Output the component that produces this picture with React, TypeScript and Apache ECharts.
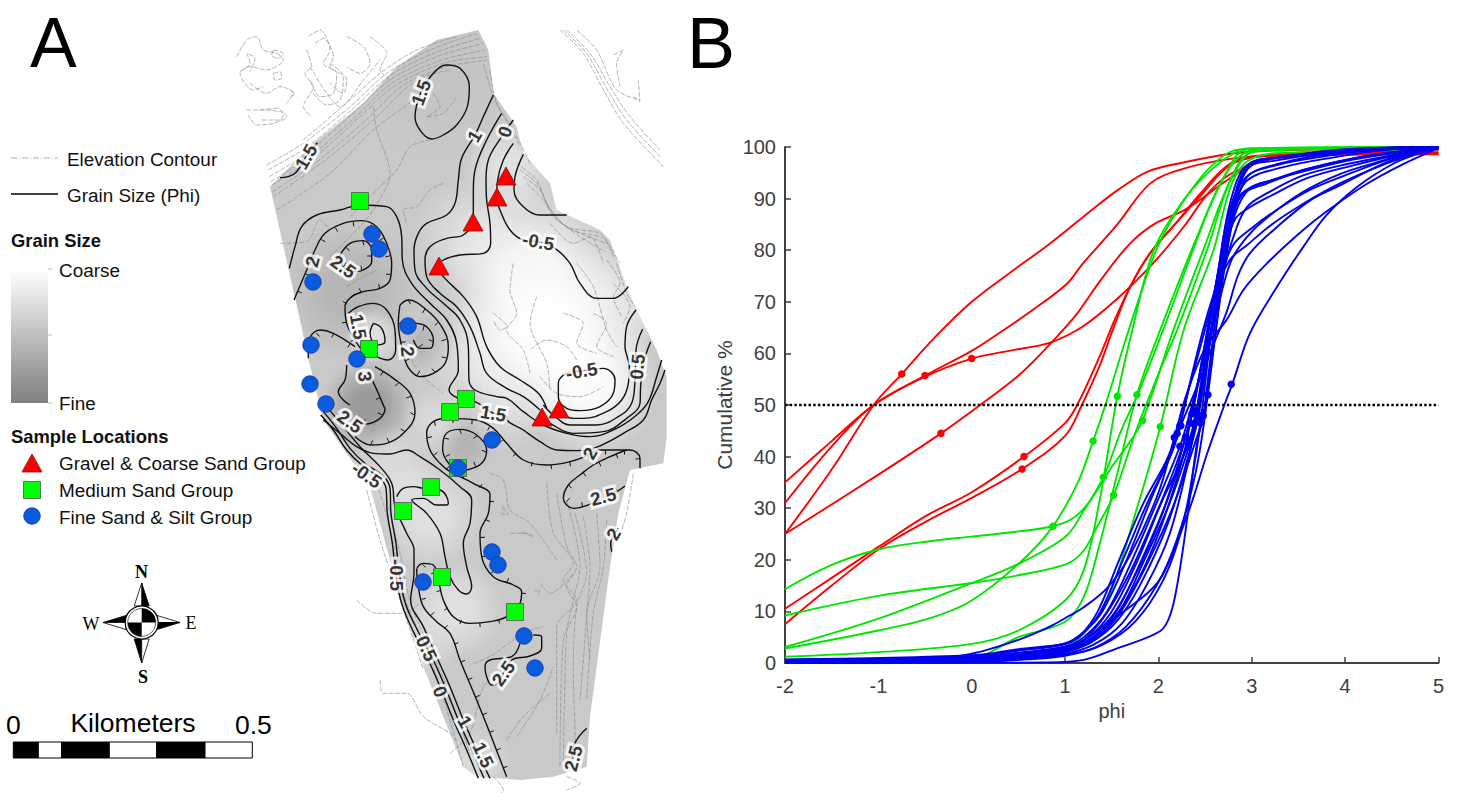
import React, { useEffect, useRef } from "react";
import * as echarts from "echarts";

type P = [number, number];
const pairs = (ox: number, oy: number, v: number[]): P[] => {
  const out: P[] = [];
  for (let i = 0; i < v.length; i += 2) out.push([ox + v[i] / 3, oy + v[i + 1] / 3]);
  return out;
};
const u = (...v: number[]) => pairs(230, 30, v);
const l = (...v: number[]) => pairs(290, 400, v);
const pts = (...v: number[]): P[] => {
  const out: P[] = [];
  for (let i = 0; i < v.length; i += 2) out.push([v[i], v[i + 1]]);
  return out;
};

// ---------- Panel B: cumulative curves (phi, %) ----------
const redCurves: P[][] = [
  pts(-2,25,-1.5,37.5,-1.05,50,-0.75,56,-0.4,63,0,70,0.4,75.5,0.84,81.3,1.3,88,1.56,91.6,1.88,95.2,2.27,97,2.77,98.7,3.34,99.4,5,99.7),
  pts(-2,35,-1.5,43,-1.05,50,-0.5,55.7,0,60.5,0.3,64,0.66,68.5,1.02,73.5,1.19,77.4,1.56,85,1.91,92.9,2.27,95.8,2.77,97.7,3.34,98.4,5,98.6),
  pts(-2,31,-1.5,42,-1.05,50,-0.5,55.5,0,59,0.4,60.5,0.84,62.1,1.19,65.2,1.56,70.6,1.91,76.8,2.27,84.5,2.56,91.6,2.85,95.5,3.34,98,4.41,98.7,5,98.8),
  pts(-2,25,-1,36.5,-0.33,44.5,0.09,50,0.52,56,0.88,62.6,1.12,67.5,1.37,73.9,1.68,81,1.95,85,2.3,88,2.77,94,3.1,97.5,3.6,99,5,99.4),
  pts(-2,10.5,-1.5,16.5,-1,22.5,-0.48,28.6,0,33.1,0.56,40,1,46.5,1.13,50,1.37,59.4,1.52,66,1.7,73,1.91,79.4,2.2,85.5,2.45,91,2.77,96.8,3.12,98.4,5,99),
  pts(-2,7.5,-1.5,15,-1,22,-0.48,27.5,0,32,0.54,37.6,1,44,1.18,50,1.37,57.6,1.52,65,1.7,73,1.91,79.4,2.2,85.5,2.45,90.5,2.77,96.5,3.12,98.2,5,99.4),
];
const greenCurves: P[][] = [
  pts(-2,14.3,-1.5,19,-1,22,-0.41,23.7,0,24.5,0.5,25.5,0.87,26.5,1.08,28,1.25,31,1.5,38,1.7,43,1.83,47,2.16,64.5,2.48,80,2.77,93.5,3,99,3.3,99.6,5,99.8),
  pts(-2,9.2,-1,13,0,15.5,0.5,17,1.02,19.2,1.2,21.8,1.34,26.3,1.52,32.5,1.75,44.5,2,56,2.2,64.5,2.52,80,2.78,94,3,99,3.5,99.5,5,99.7),
  pts(-2,3.1,-1,8.6,0,15.5,0.5,19.2,1,24.4,1.2,29.5,1.41,36,1.6,45,1.8,53,2.05,64.5,2.37,80,2.66,92.9,2.91,98.7,3.2,99.6,5,99.9),
  pts(-2,2.8,-1,6.3,-0.41,8.9,0,12.1,0.5,19.2,0.85,26,1.13,34.7,1.3,43,1.45,51,1.62,61,1.8,71,2,81,2.25,89,2.55,96,2.85,99.5,3.2,99.8,5,100),
  pts(-2,1.2,-1,2.1,0,3.7,0.5,6.3,1,12.1,1.2,18,1.37,31.5,1.56,51.7,1.72,64.5,1.95,80,2.27,89.7,2.52,94.8,2.77,98.4,2.95,99.7,5,100),
  pts(-2,0.3,0,1,0.5,5,1,8,1.2,12.8,1.37,23,1.55,36,1.77,52,2.05,66,2.4,82,2.7,94,2.95,99.5,5,100),
  pts(-2,0.1,0,0.2,0.5,1,1,3,1.2,5.7,1.45,12,1.77,30,2.02,45.8,2.27,64.5,2.59,80,2.8,93.5,3.03,98,3.5,99,5,99.5),
];
const blueCurves: P[][] = [
  pts(-2,0,0.8,0.1,1.2,0.6,1.55,2.8,2.02,6.2,2.13,9.5,2.215,16.6,2.3,26.9,2.41,42.3,2.48,47.9,2.55,58,2.65,72,2.78,86,2.9,94,3.05,97,3.5,98.5,4.2,99.5,5,100),
  pts(-2,0.2,0,0.8,1,2.8,1.2,3.7,1.55,8.9,1.91,14,2.07,17.9,2.34,30.2,2.52,40.5,2.7,49.7,2.79,54,2.98,63.9,3.27,72.9,3.55,80.6,3.8,86.8,4.13,92.3,4.52,96.8,4.8,98.8,5,100),
  pts(-2,0.2,-0.5,0.6,0,1.8,0.5,4.5,0.83,7,1.05,9.2,1.2,10.8,1.46,14.7,1.7,21,2,33,2.17,43.7,2.3,52,2.5,61,2.73,66.5,2.91,72.3,3.16,77.4,3.55,83.9,3.8,87.5,4.2,92.5,4.6,96.5,5,99.8),
  pts(-2,0.6,0,1.3,0.5,2.5,1,3.8,1.2,6,1.4,10,1.66,20,1.95,33,2.15,41,2.24,46,2.4,53,2.55,60,2.73,68,2.85,75,2.98,79.4,3.27,84.5,3.63,89.7,3.95,92.6,4.41,96.8,4.77,99,5,99.8),
  pts(-2,0.4,0,1,0.5,2,1,3.2,1.2,5,1.45,10,1.72,20,1.98,31,2.23,42,2.33,48,2.5,60,2.65,70,2.78,78,2.95,82.6,3.13,85.8,3.52,91,3.95,94.8,4.41,97.4,4.77,99.4,5,100),
  pts(-2,0.3,0,0.8,0.5,1.7,1,3,1.25,5,1.5,10,1.78,20,2.03,31,2.32,42.3,2.42,50,2.55,62,2.7,76,2.83,84,2.95,88.4,3.16,91,3.55,94.5,4.05,96.8,4.52,98.4,5,99.7),
  pts(-2,0.2,0,0.6,0.5,1.4,1,2.6,1.3,5,1.55,10,1.82,20,2.08,31,2.29,43.7,2.4,52,2.55,66,2.68,78,2.8,87,2.91,91,3.16,92.9,3.55,95.5,4.05,97.7,4.52,99,5,100),
  pts(-2,0.1,0,0.4,0.5,1,1,2.1,1.35,5,1.6,10,1.9,20,2.15,30,2.38,42,2.48,48,2.58,60,2.7,76,2.82,88,2.95,93.5,3.34,96.1,3.88,98,4.41,99.4,5,100),
  pts(-2,0.1,0,0.5,0.5,1.2,1,2.4,1.3,5,1.58,10,1.85,20,2.12,31,2.33,42,2.41,47,2.53,60,2.66,74,2.78,85,2.95,94.2,3.27,96.5,3.7,98,4.41,99.7,5,100),
  pts(-2,0.2,0,0.5,0.5,1.1,1,2.2,1.28,4,1.55,8,1.8,15,2.1,27,2.35,42,2.43,48,2.55,62,2.66,76,2.78,88,2.98,96.8,3.34,98,3.88,99.4,4.77,100),
  pts(-2,0.3,0,0.7,0.5,1.5,1,2.8,1.22,4.5,1.5,9,1.75,17,2,27,2.28,41,2.38,46.3,2.5,58,2.63,72,2.76,86,2.95,95.8,3.27,97.4,3.9,99,5,100),
  pts(-2,0.4,0,0.9,0.5,1.8,1,3,1.2,4.5,1.42,9,1.68,17,1.93,27,2.2,39,2.36,48.3,2.48,60,2.6,72,2.72,83,2.85,90,2.97,92,3.2,93.5,3.6,95.8,4.1,97.8,4.6,99.2,5,99.9),
  pts(-2,0.1,0,0.3,0.5,0.8,1,1.8,1.3,3.5,1.6,7.5,1.87,15,2.12,25,2.33,40,2.41,49,2.52,62,2.64,76,2.75,87,2.93,94,3.3,96.8,3.9,98.8,5,100),
  pts(-2,0.1,0,0.3,0.5,0.7,1,1.6,1.32,3,1.65,7,1.98,15,2.2,24,2.4,37,2.53,52,2.62,65,2.72,78,2.82,87,2.98,92,3.2,93.5,3.6,95.5,4.1,97.6,4.6,99,5,99.9),
  pts(-2,0.2,0,0.6,0.5,1.3,1,2.5,1.24,4,1.52,8.5,1.78,16,2.02,26,2.25,39,2.34,46.5,2.46,58,2.58,70,2.7,80,2.82,86,2.95,88,3.2,90.5,3.6,94,4.1,96.5,4.6,98.6,5,99.8),
  pts(-2,0.5,0,1.2,0.5,2.4,1,3.6,1.18,5.5,1.38,10,1.62,20,1.88,31,2.12,40,2.23,46,2.36,56,2.5,66,2.64,74,2.8,81,2.98,84,3.2,87,3.6,91.5,4,94.5,4.45,97.5,4.85,99.5),
  pts(-2,0.7,0,1.5,0.5,2.7,1,3.8,1.17,5.5,1.35,10,1.58,20,1.84,31,2.08,39,2.2,44.5,2.34,54,2.46,62,2.6,71,2.76,78,2.95,81,3.2,84.8,3.55,89,3.95,93,4.4,96.5,4.8,99),
  pts(-2,0.1,0,0.2,0.5,0.6,1,1.4,1.4,3.5,1.75,8,2.05,16,2.25,26,2.38,38,2.45,46.5,2.55,62,2.66,78,2.78,90,2.95,96.5,3.3,98,4,99.5,5,100),
];
const redMarkers = pts(-0.75,56,-0.5,55.7,0,59,-0.33,44.5,0.56,40,0.54,37.6);
const greenMarkers = pts(0.87,26.5,1.3,43,1.41,36,1.52,32.5,1.56,51.7,1.77,52,1.83,47,2.02,45.8);
const blueMarkers = pts(2.78,54,2.53,52,2.17,43.7,2.24,46,2.23,42,2.32,42.3,2.29,43.7,2.48,47.9,2.41,47,2.43,48,2.38,46.3,2.36,48.3,2.41,49,2.34,46.5,2.23,46,2.2,44.5,2.45,46.5);
const medianLine = pts(-2,50,5,50);
const phiTicks = ["-2", "-1", "0", "1", "2", "3", "4", "5"];

// ---------- Panel A: map (page pixels) ----------
const outline: P[] = [
  ...u(120,470,250,340,400,220,500,110,620,30,745,0,775,60,780,100,790,190,860,290,880,370,960,460,980,540,1110,600,1140,630,1190,770,1220,840,1280,960,1310,1040),
  ...l(1130,110,1120,190,1020,210,985,340,960,500,900,950,890,1100,790,1130,690,1140,560,1130,520,1100,400,800,330,600,300,480,240,260,100,60),
  [308,357],[300,320],
];
const shadeCentres: [number, number, number, string][] = [
  [440,70,90,"rgba(140,140,140,0.08)"],
  [350,290,72,"rgba(120,120,120,0.24)"],
  [368,405,46,"rgba(105,105,105,0.48)"],
  [465,445,30,"rgba(120,120,120,0.25)"],
  [428,345,30,"rgba(120,120,120,0.22)"],
  [510,170,48,"rgba(255,255,255,0.45)"],
  [470,235,58,"rgba(255,255,255,0.35)"],
  [530,275,90,"rgba(255,255,255,0.75)"],
  [550,335,100,"rgba(255,255,255,0.95)"],
  [590,385,70,"rgba(255,255,255,0.85)"],
  [620,300,60,"rgba(255,255,255,0.35)"],
  [480,360,60,"rgba(255,255,255,0.4)"],
  [505,415,40,"rgba(255,255,255,0.25)"],
  [372,335,28,"rgba(255,255,255,0.5)"],
  [430,515,55,"rgba(255,255,255,0.42)"],
  [455,610,50,"rgba(255,255,255,0.42)"],
  [395,470,45,"rgba(255,255,255,0.32)"],
  [435,420,35,"rgba(255,255,255,0.28)"],
  [410,650,45,"rgba(255,255,255,0.28)"],
  [475,765,40,"rgba(255,255,255,0.3)"],
];
const elevationLines: P[][] = [
  u(20,80,50,30,80,20,100,60,140,70,160,90,110,120,60,110,30,130,70,180,100,170),
  u(60,160,110,190,150,170,190,190,170,220),
  u(30,125,60,100,50,70,75,85,60,125),
  u(130,60,160,70,145,85,125,75,130,60),
  u(130,130,150,125,155,145,135,150,130,130),
  u(180,180,195,190,180,200),
  u(90,240,140,235,170,260,130,280,80,285,55,255),
  u(235,20,270,0,300,60,280,100,320,130,310,190,270,200,240,150),
  u(255,40,280,25,310,80,300,110,340,140,330,210,290,225,250,190),
  u(230,60,245,110,225,130,250,170,220,230,245,260),
  u(300,100,350,150,340,190,300,160),
  u(350,20,400,50,420,100,390,130,350,110),
  u(420,20,470,70,450,120,480,150),
  u(50,240,100,240,160,250,150,270,90,270),
  u(240,110,290,190,330,230,400,150,450,90),
  u(110,405,220,340,360,230,470,130,600,60,740,10),
  u(114,420,225,355,365,240,475,140,610,70,750,25),
  u(118,440,230,370,370,250,480,150,620,80,760,40),
  u(122,455,240,380,380,258,485,160,630,92,765,60),
  u(125,465,250,385,390,260,490,170,640,100,770,80),
  u(128,485,265,392,410,268,520,165,650,110,772,90),
  u(130,500,280,395,430,270,560,150,660,120),
  u(140,540,300,430,430,300,580,190),
  u(220,330,360,210,450,130,560,60,680,20),
  u(990,0,1060,70,1120,180,1180,280,1300,410),
  u(1000,0,1070,70,1130,175,1190,270,1295,385),
  u(1010,0,1080,70,1140,170,1200,260,1290,360),
  u(1040,0,1100,60,1160,180,1230,210),
  u(1150,75,1180,60,1160,100,1170,170),
  u(1210,200,1230,215,1225,150),
  u(150,640,230,635,270,570,300,600),
  u(350,770,400,740,440,720),
  u(430,230,440,300,480,430,430,540,380,600,300,680),
  u(600,330,540,350,500,420,440,480,360,560),
  u(640,460,600,480,560,530,520,540,530,580),
  u(610,190,630,230,590,260,640,250,680,200),
  u(850,700,840,780,860,850,830,900,880,960,900,1030),
  u(790,850,830,890,810,900,790,870),
  u(920,800,900,880,950,1000,960,1080),
  u(1040,700,1090,770,1130,900,1160,950),
  u(960,580,1030,640,1080,620,1120,700),
  u(1000,850,1060,880,1040,940,1100,970),
  u(1090,850,1130,880,1100,950,1150,980),
  u(1040,990,1010,950,950,930,900,960),
  u(860,400,920,450,950,520,1010,590,1110,610,1140,650,1170,700),
  u(870,420,925,465,960,540,1025,600,1120,625,1150,680),
  u(880,440,930,480,970,560,1040,605,1130,640),
  u(890,460,940,510,990,575,1050,620,1125,665),
  u(760,100,790,200,840,290,870,350),
  u(780,120,800,220,850,300,900,400),
  u(1150,760,1200,830,1180,880),
  u(1160,700,1190,790,1215,830),
  u(1130,690,1170,760,1150,800,1175,860),
  u(930,1040,980,1090,1050,1100,1120,1070),
  u(580,900,540,970,580,1040,640,1090),
  l(260,250,300,380,340,580,430,800,520,1100),
  l(230,270,270,420,330,600,400,810),
  l(290,300,330,460,365,620,450,810,540,1060),
  l(200,600,260,640,340,640,400,600),
  l(270,840,280,880,350,880,400,950,480,1000,500,1020),
  l(660,400,720,400,730,410,690,395),
  l(600,220,640,240,660,330,720,370,800,480),
  l(640,320,655,345,635,340,640,320),
  l(770,250,790,400,850,490,820,540,860,600,800,680,800,1000),
  l(800,280,830,440,860,500,830,560,860,620,820,720,810,1100),
  l(830,300,870,500,850,600,830,700,820,1100),
  l(855,340,890,520,860,620,850,800,860,1100),
  l(880,350,900,500,890,650,870,900),
  l(920,340,930,500,890,640,900,780),
  l(950,360,940,500,910,640,890,900),
  l(750,550,780,580,850,520),
  l(735,575,750,570,745,585),
  l(550,790,600,770,700,700,760,680),
  l(480,1060,540,1000,580,860,620,830),
  l(680,1010,750,900,790,800),
  l(650,1020,700,950,780,880),
  l(830,1130,870,1150,830,1170),
  l(610,1130,640,1170,620,1190),
  l(1030,220,1010,340,985,420),
];

const line1 = [...u(790,195,760,260,735,315,695,385,685,450,675,520,650,555,590,580,565,610,552,660,555,720,590,775,640,820,690,870,715,950,717,1050,735,1080,800,1100),...l(650,-5,700,35,760,75,830,100,900,110,980,85,1040,45,1075,5,1100,-70,1115,-120)];
const line2 = [...u(815,250,770,330,735,420,730,480,730,560,700,615,650,625,600,650,585,690,590,740,630,790,680,830,720,890,750,970,770,1030,830,1075,880,1100,930,1140)];
const line3 = [...u(850,270,815,320,775,390,768,450,770,510,780,580,782,640,760,670,690,675,640,690,625,710,640,740,700,800,740,860,770,950,810,1010,870,1050,925,1090,950,1135)];
const line4 = u(850,340,820,390,803,450,800,505,810,540,840,600,880,630,925,635,975,655,1020,700,1050,760,1100,805,1150,805,1195,770);
const line5 = u(880,373,855,440,852,480,880,530,930,555,1010,555);
const ellipse15 = u(573,187,610,130,650,105,690,115,718,170,712,230,680,285,640,315,605,327,570,300,555,260,560,225,573,187);
const nw15 = u(150,443,175,440,200,425,228,380,262,338);
const squareLine = [...u(178,715,195,650,215,590,260,555,330,540,390,525,470,530,500,560,515,620,517,690,545,760,600,820,650,870,680,940,685,1020,657,1080,685,1105,735,1115,790,1150,830,1160),...l(650,55,700,90,750,125,800,150,860,152,900,148,950,128,1000,100,1060,60,1085,0,1110,-50,1125,-90)];
const ring05 = u(1055,1023,1120,1015,1155,1050,1150,1090,1110,1130,1050,1142,1010,1135,985,1100,985,1060,1010,1030,1055,1023);
const right1 = [...u(1218,840,1190,890,1185,950,1198,1010,1195,1060,1175,1110,1130,1145,1060,1165),...l(850,55,810,40)];
const right2 = [...u(1238,897,1218,960,1215,1050),...l(1025,10,985,50,920,75,840,75,790,45,760,15)];
const right3 = [...u(1262,935,1240,1000,1232,1070),...l(1050,10,1010,55,940,95,850,100,780,70,750,50)];
const midLine = l(100,60,150,100,200,140,250,160,300,162,350,150,390,170,450,210,510,260,545,300,540,370,520,430,530,500,545,560,530,582,505,570,480,530,465,470,450,400,410,340,365,300,400,295,440,315,470,315,475,310,450,270,400,265,370,260,340,265,320,290);
const bubble15 = u(355,850,385,830,430,820,470,840,495,900,497,960,475,990,440,980,415,960);
const inner15 = u(430,880,455,895,465,935,440,945,420,910,430,880);
const sw1 = l(92,45,130,90,170,150,215,195,270,235,288,265,292,340,307,430,317,520,335,610,370,695,410,770,450,860,490,960,530,1050,565,1135);
const sw2 = l(100,35,140,85,180,145,225,190,280,228,300,265,303,340,318,430,328,520,346,610,382,690,425,770,465,860,505,960,545,1050,582,1135);
const sw3 = l(110,20,160,80,210,140,270,200,305,250,315,320,350,400,372,450,372,520,362,600,400,680,440,770,480,860,520,960,560,1050,600,1135);
const squiggle25 = [...l(690,730,665,770,600,780,585,800,590,830,605,855,625,850,640,820,665,780,720,768,755,745,755,710,730,705)];
const south25 = l(890,985,860,1020,845,1060,850,1075);
const east2 = l(985,385,975,400,962,430,965,455);

const plainContours: P[][] = [line1,line2,line3,line4,line5,ellipse15,nw15,squareLine,ring05,right1,right2,right3,midLine,bubble15,inner15,sw1,sw2,sw3,squiggle25,south25,east2];

// Contours of closed depressions: their hachures are placed by walking along them.
const bigTwo = l(1050,205,1050,175,1020,150,930,150,885,170,840,185,770,195,700,180,650,130,610,85,560,60,480,55,430,65,410,100,420,150,450,190,480,215,550,250,600,285,595,340,570,400,575,470,610,530,670,555,695,575,690,610,650,650,600,665,540,670,490,650,460,600,445,540,430,495,400,490,380,510,385,560,400,620,440,665,480,700,510,780,560,900,600,1000,650,1130);
const topTwo = u(192,810,230,720,255,660,285,610,340,580,395,572,440,590,470,640,485,700,480,750,450,775,400,785,365,800,345,830,350,880,375,930,395,960);
const midTwo = [...u(435,1010,490,1045,540,1090,555,1150),...l(375,40,340,100,290,130,245,135,195,110)];
const loop2 = u(510,825,535,810,590,840,635,890,655,950,645,1000,610,1030,570,1040,540,1020,525,990,515,950,505,880,510,825);
const loop2in = u(555,880,590,890,610,930,600,955,570,955,550,930);
const loop25 = u(330,675,360,640,400,632,425,660,425,695,400,720,375,725,340,710,330,675);
const leftLoop = u(235,985,240,925,270,900,310,910,375,950);
const loop3 = [...u(415,1025,445,1090,462,1130),...l(285,25,270,55,225,72,205,60)];
const loop3l = u(350,1005,345,1050,325,1085,340,1110,360,1125);
const centreLoop = l(480,195,458,150,465,105,510,88,560,105,590,150,575,190,530,210);
const se25 = l(1005,258,985,272,940,295,880,320,850,325,820,295,835,255,870,225,910,195,960,170,1010,150);
const hachuredContours: P[][] = [bigTwo,topTwo,midTwo,loop2,loop2in,loop25,leftLoop,loop3,centreLoop,se25];
const unhachuredExtras: P[][] = [loop3l];

const contourLabelTexts = ["1.5","1.5","1","0","-0.5","2","2.5","1.5","2","3","-0.5","0.5","1.5","2","2.5","2","-0.5","2.5","-0.5","0.5","0","1","1.5","2.5","2.5"];
const contourLabelPlaces: P[] = [...u(573,187,228,380,733,318,825,305,925,635,247,695,340,710,385,890,533,965,405,1040,1055,1023,1222,1010),...l(610,40,900,160,940,290,970,402,230,225,180,65,320,525,410,745,450,875,525,965,580,1065,640,820,850,1075)];
const contourLabelTurns = [70,60,60,70,-10,75,-35,-80,-85,-85,10,85,-10,60,15,60,-35,-35,-90,-65,-70,-60,-65,55,75];

const triangleSites = pts(506,176,497,197,473,222,439,266,542,417,559,409);
const squareSites = pts(360,201,369,349,466,399,450,412,458,468,431,487,403,511,442,577,515,612);
const circleSites = pts(372,234,379,249,313,282,408,326,311,345,357,359,310,384,326,404,492,440,458,468,492,552,498,565,423,582,524,636,535,668);
const legendTriangle = pts(32,463);
const legendSquare = pts(32,490);
const legendCircle = pts(32,516);
const elevationKey = pts(11,158,58,158);
const grainKey = pts(11,194,58,194);

const scaleStops = [13.3,38.3,61.7,109.3,156.7,205,252.3];

const SANS = "'Liberation Sans', Arial, sans-serif";
const SERIF = "'Liberation Serif', 'Times New Roman', serif";

function hachures(path: P[], step: number, len: number): (P | string[])[] {
  const out: (P | string[])[] = [];
  const side = path === bigTwo ? -1 : 1;
  let carry = step / 2;
  for (let i = 0; i < path.length - 1; i++) {
    const [x0, y0] = path[i];
    const [x1, y1] = path[i + 1];
    const d = Math.hypot(x1 - x0, y1 - y0);
    if (d === 0) continue;
    const nx = -(y1 - y0) / d;
    const ny = (x1 - x0) / d;
    let s = carry;
    while (s < d) {
      const px = x0 + ((x1 - x0) * s) / d;
      const py = y0 + ((y1 - y0) * s) / d;
      out.push([px, py], [px + nx * len * side, py + ny * len * side], ["-", "-"]);
      s += step;
    }
    carry = s - d;
  }
  return out;
}

const ink = "#404040";

function curveSeries(curves: P[][], color: string, name: string) {
  return curves.map((data, i) => ({
    name: `${name}${i}`,
    type: "line",
    xAxisIndex: 0,
    yAxisIndex: 0,
    data,
    smooth: 0.35,
    showSymbol: false,
    silent: true,
    z: 5,
    lineStyle: { color, width: 1.9 },
  }));
}
function markerSeries(data: P[], color: string) {
  return {
    type: "scatter",
    xAxisIndex: 0,
    yAxisIndex: 0,
    data,
    symbol: "circle",
    symbolSize: 7.5,
    silent: true,
    z: 6,
    itemStyle: { color, opacity: 1 },
  };
}
function mapLine(data: any[], width: number, color: string, z: number, smooth: number | boolean, dash?: number[]) {
  return {
    type: "line",
    xAxisIndex: 1,
    yAxisIndex: 1,
    data,
    smooth,
    showSymbol: false,
    silent: true,
    z,
    lineStyle: { color, width, type: dash || "solid" },
  };
}
function siteSeries(data: P[], symbol: string, size: any, color: string, border: string) {
  return {
    type: "scatter",
    xAxisIndex: 1,
    yAxisIndex: 1,
    data,
    symbol,
    symbolSize: size,
    silent: true,
    z: 12,
    itemStyle: { color, borderColor: border, borderWidth: 0.8, opacity: 1 },
  };
}

function text(str: string, x: number, y: number, size: number, extra: any = {}) {
  return {
    type: "text",
    x,
    y,
    z: 20,
    style: {
      text: str,
      fontFamily: SANS,
      fontSize: size,
      fill: "#111",
      textVerticalAlign: "middle",
      verticalAlign: "middle",
      ...extra,
    },
  };
}
function poly(points: number[][], fill: string, stroke = "#000") {
  return { type: "polygon", z: 20, shape: { points }, style: { fill, stroke, lineWidth: 0.8 } };
}

function buildGraphic() {
  const cx = 141.7;
  const cy = 622.5;
  const g: any[] = [
    text("A", 30, 43, 70, { fill: "#000" }),
    text("B", 687, 43, 72, { fill: "#000" }),
    text("Elevation Contour", 67, 159, 18.9),
    text("Grain Size (Phi)", 67, 195, 18.9),
    text("Grain Size", 11, 240, 18.4, { fontWeight: "bold" }),
    text("Coarse", 59, 270, 18.9),
    text("Fine", 59, 403, 18.9),
    text("Sample Locations", 11, 436, 18.4, { fontWeight: "bold" }),
    text("Gravel & Coarse Sand Group", 59, 463, 18.9),
    text("Medium Sand Group", 59, 490, 18.9),
    text("Fine Sand & Silt Group", 59, 517, 18.9),
    {
      type: "rect",
      z: 20,
      shape: { x: 11, y: 269, width: 37, height: 134 },
      style: {
        fill: new echarts.graphic.LinearGradient(0, 0, 0, 1, [
          { offset: 0, color: "#ffffff" },
          { offset: 1, color: "#7f7f7f" },
        ]),
      },
    },
    ...[269, 335, 403].map((y) => ({
      type: "line",
      z: 20,
      shape: { x1: 48, y1: y, x2: 52, y2: y },
      style: { stroke: "#bbb", lineWidth: 1 },
    })),
    // compass
    poly([[cx, 583], [cx + 7.5, 606], [cx, 606]], "#000"),
    poly([[cx, 583], [cx - 7.5, 606], [cx, 606]], "#fff"),
    poly([[cx, 663], [cx - 7.5, 639], [cx, 639]], "#000"),
    poly([[cx, 663], [cx + 7.5, 639], [cx, 639]], "#fff"),
    poly([[180, cy], [157, cy - 7], [157, cy]], "#fff"),
    poly([[180, cy], [157, cy + 7], [157, cy]], "#000"),
    poly([[103, cy], [126, cy - 7], [126, cy]], "#000"),
    poly([[103, cy], [126, cy + 7], [126, cy]], "#fff"),
    { type: "circle", z: 21, shape: { cx, cy, r: 16.5 }, style: { fill: "#fff", stroke: "#000", lineWidth: 1.2 } },
    { type: "sector", z: 22, shape: { cx, cy, r: 14, startAngle: -Math.PI / 2, endAngle: 0 }, style: { fill: "#000" } },
    { type: "sector", z: 22, shape: { cx, cy, r: 14, startAngle: Math.PI / 2, endAngle: Math.PI }, style: { fill: "#000" } },
    { type: "circle", z: 22, shape: { cx, cy, r: 14 }, style: { fill: "none", stroke: "#000", lineWidth: 0.6 } },
    text("N", 141.5, 572, 18, { fontFamily: SERIF, fontWeight: "bold", textAlign: "center", align: "center", fill: "#000" }),
    text("S", 143, 677, 18, { fontFamily: SERIF, fontWeight: "bold", textAlign: "center", align: "center", fill: "#000" }),
    text("W", 91, 624, 18, { fontFamily: SERIF, textAlign: "center", align: "center", fill: "#000" }),
    text("E", 191, 623, 18, { fontFamily: SERIF, textAlign: "center", align: "center", fill: "#000" }),
    // scale bar
    text("0", 6, 725, 26.5, { fill: "#000" }),
    text("Kilometers", 133, 723, 26.5, { textAlign: "center", align: "center", fill: "#000" }),
    text("0.5", 235, 725, 26.5, { fill: "#000" }),
  ];
  for (let i = 0; i < scaleStops.length - 1; i++) {
    g.push({
      type: "rect",
      z: 20,
      shape: { x: scaleStops[i], y: 742, width: scaleStops[i + 1] - scaleStops[i], height: 16 },
      style: { fill: i % 2 === 0 ? "#000" : "#fff", stroke: "#000", lineWidth: 1 },
    });
  }
  return g;
}

export default function App() {
  const ref = useRef<HTMLDivElement>(null);
  useEffect(() => {
    document.body.style.margin = "0";
    const chart = echarts.init(ref.current!, undefined, { renderer: "svg" });
    const allLayers = [
      { fill: "#c9c9c9" },
      ...shadeCentres.map(([x, y, r, color]) => ({
        fill: {
          type: "radial",
          x,
          y,
          r,
          global: true,
          colorStops: [
            { offset: 0, color },
            { offset: 0.3, color },
            { offset: 1, color: color.replace(/[\d.]+\)$/, "0)") },
          ],
        },
      })),
    ];
    const tickData = hachuredContours.flatMap((c) => hachures(c, 19, 4.5));
    const option: any = {
      animation: false,
      backgroundColor: "#fff",
      grid: [
        { left: 785, top: 147, width: 653.5, height: 516, containLabel: false },
        { left: 0, top: 0, width: 1460, height: 793, containLabel: false },
      ],
      xAxis: [
        {
          type: "value",
          gridIndex: 0,
          min: -2,
          max: 5,
          interval: 1,
          name: "phi",
          nameLocation: "middle",
          nameGap: 38,
          nameTextStyle: { color: ink, fontFamily: SANS, fontSize: 20 },
          splitLine: { show: false },
          axisLine: { onZero: false, lineStyle: { color: ink, width: 2 } },
          axisTick: { inside: true, length: 6, lineStyle: { color: ink, width: 1.5 } },
          axisLabel: {
            color: ink,
            fontFamily: SANS,
            fontSize: 20,
            margin: 13,
            formatter: (v: number) => phiTicks[v + 2],
          },
        },
        { type: "value", gridIndex: 1, min: 0, max: 1460, show: false },
      ],
      yAxis: [
        {
          type: "value",
          gridIndex: 0,
          min: 0,
          max: 100,
          interval: 10,
          name: "Cumulative %",
          nameLocation: "middle",
          nameGap: 50,
          nameRotate: 90,
          nameTextStyle: { color: ink, fontFamily: SANS, fontSize: 21 },
          splitLine: { show: false },
          axisLine: { onZero: false, lineStyle: { color: ink, width: 2 } },
          axisTick: { inside: true, length: 6, lineStyle: { color: ink, width: 1.5 } },
          axisLabel: { color: ink, fontFamily: SANS, fontSize: 20, margin: 9 },
        },
        { type: "value", gridIndex: 1, min: 0, max: 793, inverse: true, show: false },
      ],
      series: [
        ...curveSeries(redCurves, "#ff0000", "red"),
        ...curveSeries(greenCurves, "#00e600", "green"),
        ...curveSeries(blueCurves, "#0000f0", "blue"),
        markerSeries(redMarkers, "#ff0000"),
        markerSeries(greenMarkers, "#00e600"),
        markerSeries(blueMarkers, "#0000f0"),
        {
          type: "line",
          xAxisIndex: 0,
          yAxisIndex: 0,
          data: medianLine,
          showSymbol: false,
          silent: true,
          z: 7,
          lineStyle: { color: "#000", width: 2.5, type: [2.5, 2.2] },
        },
        {
          type: "custom",
          xAxisIndex: 1,
          yAxisIndex: 1,
          coordinateSystem: "cartesian2d",
          silent: true,
          clip: false,
          z: 1,
          data: allLayers.map((_, i) => [i, 0]),
          renderItem: (params: any, api: any) => ({
            type: "polygon",
            shape: { points: outline.map((p) => api.coord(p)) },
            style: { fill: allLayers[params.dataIndex].fill },
          }),
        },
        ...elevationLines.map((d) => mapLine(d, 0.65, "#8c8c8c", 2, 0.3, [5, 1.5])),
        mapLine(elevationKey, 0.7, "#8a8a8a", 2, false, [6, 2, 1, 2]),
        mapLine(grainKey, 1.4, "#000", 3, false),
        ...plainContours.concat(hachuredContours, unhachuredExtras).map((d) => mapLine(d, 1.4, "#111", 3, 0.4)),
        mapLine(tickData, 1, "#111", 3, false),
        {
          type: "scatter",
          xAxisIndex: 1,
          yAxisIndex: 1,
          silent: true,
          z: 10,
          symbolSize: 1,
          itemStyle: { color: "transparent" },
          data: contourLabelPlaces.map((value, i) => ({
            value,
            label: {
              show: true,
              position: "inside",
              formatter: contourLabelTexts[i],
              rotate: contourLabelTurns[i],
              fontFamily: SANS,
              fontWeight: "bold",
              fontSize: 18.5,
              color: "#000",
              textBorderColor: "#fff",
              textBorderWidth: 6,
            },
          })),
        },
        siteSeries(squareSites, "rect", 17, "#00ff00", "#555"),
        siteSeries(circleSites, "circle", 16.5, "#0a5be0", "#1a3a90"),
        siteSeries(triangleSites, "triangle", [20, 18], "#ff0000", "#8a1010"),
        siteSeries(legendTriangle, "triangle", [20, 18], "#ff0000", "#8a1010"),
        siteSeries(legendSquare, "rect", 17, "#00ff00", "#555"),
        siteSeries(legendCircle, "circle", 16.5, "#0a5be0", "#1a3a90"),
      ],
      graphic: buildGraphic(),
    };
    const haloFirst = () => {
      ref.current?.querySelectorAll("text").forEach((t) => {
        (t as SVGTextElement).style.setProperty("paint-order", "stroke");
      });
    };
    chart.on("finished", haloFirst);
    chart.setOption(option);
    haloFirst();
    return () => chart.dispose();
  }, []);
  return <div ref={ref} style={{ position: "absolute", left: 0, top: 0, width: 1460, height: 793 }} />;
}
